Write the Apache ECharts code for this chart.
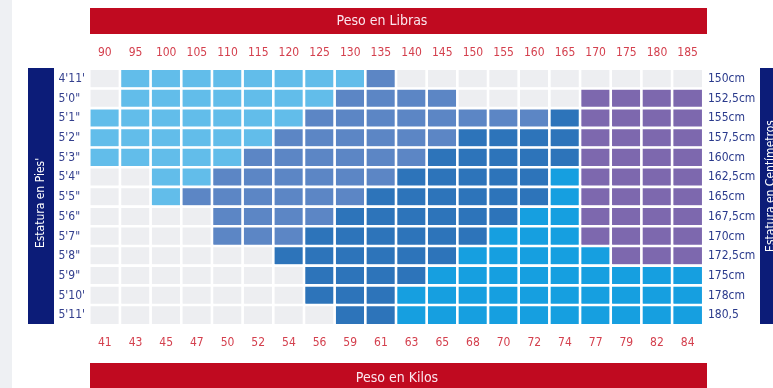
<!DOCTYPE html>
<html>
<head>
<meta charset="utf-8">
<script src="https://cdn.jsdelivr.net/npm/echarts@6/dist/echarts.min.js"></script>
<style>
  html, body { margin: 0; padding: 0; background: #fff; }
  #chart { width: 773px; height: 388px; }
</style>
</head>
<body>
<div id="chart"></div>
<script>
// Weight columns (pounds on top, kilograms underneath)
const pounds = ['90','95','100','105','110','115','120','125','130','135','140','145','150','155','160','165','170','175','180','185'];
const kilos = ['41','43','45','47','50','52','54','56','59','61','63','65','68','70','72','74','77','79','82','84'];

// Height rows (feet/inches on the left, centimetres on the right)
const feet = ["4'11'", "5'0\"", "5'1\"", "5'2\"", "5'3\"", "5'4\"", "5'5\"", "5'6\"", "5'7\"", "5'8\"", "5'9\"", "5'10'", "5'11'"];
const centimetres = ['150cm','152,5cm','155cm','157,5cm','160cm','162,5cm','165cm','167,5cm','170cm','172,5cm','175cm','178cm','180,5'];

// Zone of every height/weight cell: 0 none, 1..5 the weight bands
const zones = [
  [0,1,1,1,1,1,1,1,1,2, 0,0,0,0,0,0,0,0,0,0],
  [0,1,1,1,1,1,1,1,2,2, 2,2,0,0,0,0,5,5,5,5],
  [1,1,1,1,1,1,1,2,2,2, 2,2,2,2,2,3,5,5,5,5],
  [1,1,1,1,1,1,2,2,2,2, 2,2,3,3,3,3,5,5,5,5],
  [1,1,1,1,1,2,2,2,2,2, 2,3,3,3,3,3,5,5,5,5],
  [0,0,1,1,2,2,2,2,2,2, 3,3,3,3,3,4,5,5,5,5],
  [0,0,1,2,2,2,2,2,2,3, 3,3,3,3,3,4,5,5,5,5],
  [0,0,0,0,2,2,2,2,3,3, 3,3,3,3,4,4,5,5,5,5],
  [0,0,0,0,2,2,2,3,3,3, 3,3,3,4,4,4,5,5,5,5],
  [0,0,0,0,0,0,3,3,3,3, 3,3,4,4,4,4,4,5,5,5],
  [0,0,0,0,0,0,0,3,3,3, 3,4,4,4,4,4,4,4,4,4],
  [0,0,0,0,0,0,0,3,3,3, 4,4,4,4,4,4,4,4,4,4],
  [0,0,0,0,0,0,0,0,3,3, 4,4,4,4,4,4,4,4,4,4]
];

const zoneColors = ['#edeef1', '#62bdea', '#5c86c5', '#2d74ba', '#169fe0', '#7d68ae'];

const cells = [];
zones.forEach((row, r) => row.forEach((z, c) => cells.push([c, r, z])));

const narrow = "'Liberation Sans Narrow', 'DejaVu Sans Condensed', 'Roboto Condensed', sans-serif";
const RED = '#c00a20';
const NAVY = '#0c1c78';

const chart = echarts.init(document.getElementById('chart'), null, { renderer: 'canvas' });

chart.setOption({
  backgroundColor: '#ffffff',
  animation: false,
  grid: { left: 89.5, right: 70, top: 69, bottom: 63 },
  xAxis: [
    {
      type: 'category', data: pounds, position: 'top',
      axisLine: { show: false }, axisTick: { show: false }, splitLine: { show: false },
      axisLabel: { color: '#d4404e', fontFamily: narrow, fontSize: 12, margin: 10 }
    },
    {
      type: 'category', data: kilos, position: 'bottom',
      axisLine: { show: false }, axisTick: { show: false }, splitLine: { show: false },
      axisLabel: { color: '#d4404e', fontFamily: narrow, fontSize: 12, margin: 12 }
    }
  ],
  yAxis: [
    {
      type: 'category', data: feet, inverse: true, position: 'left',
      axisLine: { show: false }, axisTick: { show: false }, splitLine: { show: false },
      axisLabel: { color: '#34408e', fontFamily: narrow, fontSize: 12, align: 'left', margin: 31 }
    },
    {
      type: 'category', data: centimetres, inverse: true, position: 'right',
      axisLine: { show: false }, axisTick: { show: false }, splitLine: { show: false },
      axisLabel: { color: '#2a3a8c', fontFamily: narrow, fontSize: 12, margin: 5 }
    }
  ],
  visualMap: {
    type: 'piecewise', show: false, dimension: 2,
    pieces: zoneColors.map((color, i) => ({ value: i, color: color }))
  },
  series: [{
    type: 'heatmap',
    xAxisIndex: 0, yAxisIndex: 0,
    data: cells,
    itemStyle: { borderColor: '#ffffff', borderWidth: 2.6 },
    emphasis: { disabled: true },
    label: { show: false }
  }],
  graphic: [
    // page edge on the left
    { type: 'rect', shape: { x: 0, y: 0, width: 12, height: 388 }, style: { fill: '#eef0f3' }, silent: true },
    // pound banner
    { type: 'rect', shape: { x: 90, y: 8, width: 617, height: 26 }, style: { fill: RED }, silent: true },
    { type: 'text', x: 382, y: 21, style: { text: 'Peso en Libras', fill: '#fbe6ee', font: '14px ' + narrow, align: 'center', verticalAlign: 'middle' }, silent: true },
    // kilogram banner
    { type: 'rect', shape: { x: 90, y: 363, width: 617, height: 30 }, style: { fill: RED }, silent: true },
    { type: 'text', x: 397, y: 378, style: { text: 'Peso en Kilos', fill: '#fbe6ee', font: '14px ' + narrow, align: 'center', verticalAlign: 'middle' }, silent: true },
    // feet side bar
    { type: 'rect', shape: { x: 28, y: 68, width: 26, height: 256 }, style: { fill: NAVY }, silent: true },
    { type: 'text', x: 41, y: 203, rotation: Math.PI / 2, style: { text: "Estatura en Pies'", fill: '#ffffff', font: '12px ' + narrow, align: 'center', verticalAlign: 'middle' }, silent: true },
    // centimetre side bar
    { type: 'rect', shape: { x: 760, y: 68, width: 30, height: 256 }, style: { fill: NAVY }, silent: true },
    { type: 'text', x: 771, y: 186, rotation: Math.PI / 2, style: { text: 'Estatura en Centímetros', fill: '#ffffff', font: '12px ' + narrow, align: 'center', verticalAlign: 'middle' }, silent: true }
  ]
});
</script>
</body>
</html>
